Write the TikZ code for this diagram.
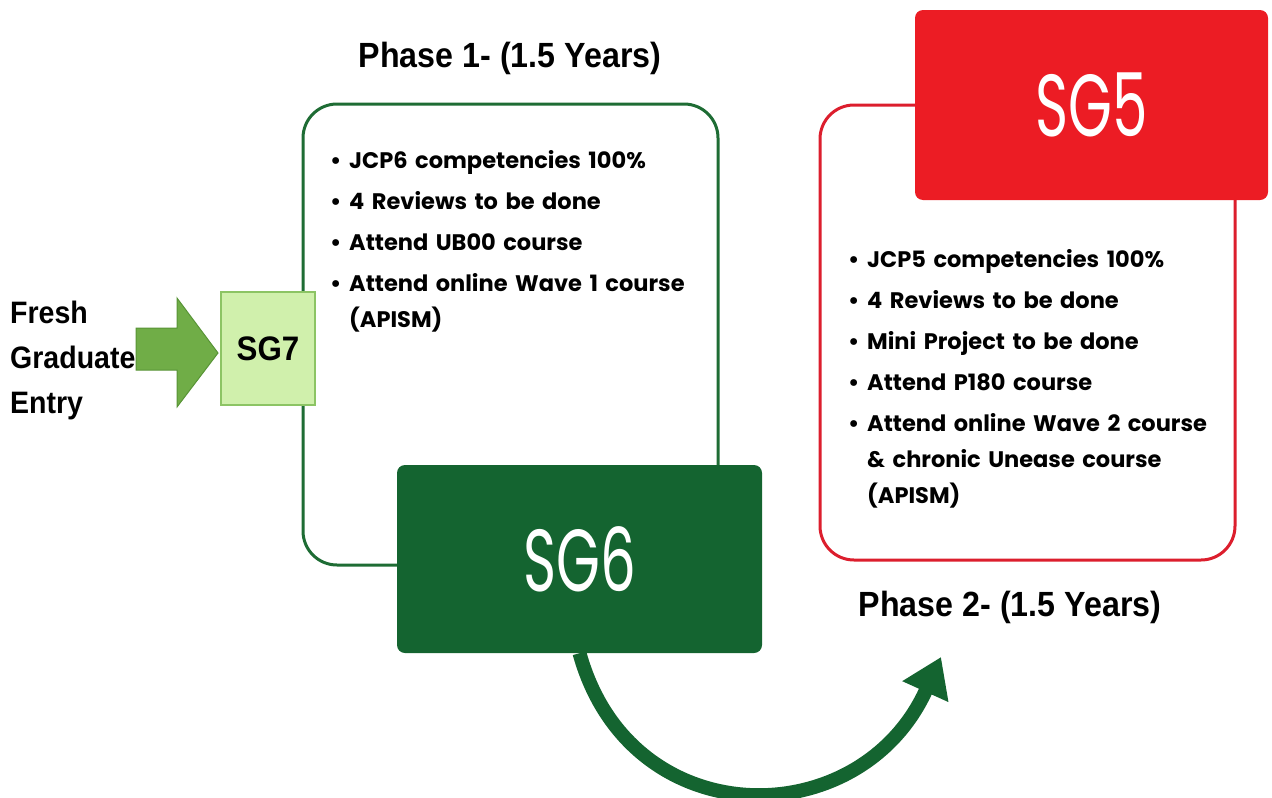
\documentclass[tikz,border=0pt]{standalone}
\usepackage{fontspec}
\newfontfamily\gothic{Poppins}
\newfontfamily\sgfont[FakeStretch=0.64]{Poppins}
\newfontfamily\narrow[FakeStretch=0.92]{Liberation Sans}
\usetikzlibrary{arrows.meta}

\definecolor{pgreen}{RGB}{30,108,52}
\definecolor{sgdark}{RGB}{20,100,48}
\definecolor{sgsevenfill}{RGB}{208,240,172}
\definecolor{sgsevenedge}{RGB}{140,196,100}
\definecolor{entrygreen}{RGB}{112,173,71}
\definecolor{entryedge}{RGB}{88,148,54}
\definecolor{sgred}{RGB}{236,28,36}
\definecolor{pred}{RGB}{220,30,45}

% one bullet line with hanging indent
\newcommand\bul[1]{\hangindent=19pt\hangafter=1\noindent\makebox[19pt][l]{\textbullet}#1\par}

\begin{document}
\begin{tikzpicture}[x=1pt, y=-1pt,
  phasebox/.style={draw, line width=3pt, rounded corners=34pt, fill=white, inner sep=0pt},
  sgbig/.style={rounded corners=8pt, text=white, font=\sgfont\fontsize{88}{88}\selectfont},
  title/.style={font=\narrow\bfseries\fontsize{35}{35}\selectfont},
  bullets/.style={anchor=north west, inner sep=0pt, align=left, text width=390pt,
    font=\gothic\bfseries\fontsize{22.5}{36}\selectfont\setlength{\parskip}{5pt}},
  bigarrow/.style={draw=sgdark, line width=14pt, -{Triangle[length=38pt,width=48pt]}}
]
  \useasboundingbox (0,0) rectangle (1272,798);

  % phase 1
  \node[title] (title1) at (510,58) {Phase 1- (1.5 Years)};
  \node[phasebox, draw=pgreen, minimum width=415, minimum height=461] (phase1) at (510.5,334.5) {};
  \node[bullets] (list1) at (330,150) {
    \bul{JCP6 competencies 100\%}
    \bul{4 Reviews to be done}
    \bul{Attend UB00 course}
    \bul{Attend online Wave 1 course\newline(APISM)}
  };

  % entry
  \node[font=\narrow\bfseries\fontsize{31}{45}\selectfont, align=left, anchor=west, inner sep=0pt] (entry) at (10,360) {Fresh\\Graduate\\Entry};
  \node[draw=sgsevenedge, line width=1.5pt, fill=sgsevenfill, minimum width=94, minimum height=113,
    font=\narrow\bfseries\fontsize{34}{34}\selectfont] (sg7) at (268,348.5) {SG7};
  \fill[entrygreen, draw=entryedge, line width=1pt] (136,328) -- (177,328) -- (177,298) -- (218,353)
    -- (177,407) -- (177,370) -- (136,370) -- cycle;

  \node[sgbig, fill=sgdark, minimum width=365, minimum height=188] (sg6) at (579.5,559) {SG6};

  % phase 2
  \node[phasebox, draw=pred, minimum width=415, minimum height=455] (phase2) at (1027.5,332.5) {};
  \node[sgbig, fill=sgred, minimum width=353, minimum height=190] (sg5) at (1091.5,105) {SG5};
  \node[bullets, text width=380pt] (list2) at (848,249) {
    \bul{JCP5 competencies 100\%}
    \bul{4 Reviews to be done}
    \bul{Mini Project to be done}
    \bul{Attend P180 course}
    \bul{Attend online Wave 2 course\newline\& chronic Unease course\newline(APISM)}
  };
  \node[title] (title2) at (1010,607) {Phase 2- (1.5 Years)};

  \coordinate (tip) at (941,657);
  \draw[bigarrow] (sg6.south) .. controls (630,836) and (860,836) .. (tip);
\end{tikzpicture}
\end{document}
